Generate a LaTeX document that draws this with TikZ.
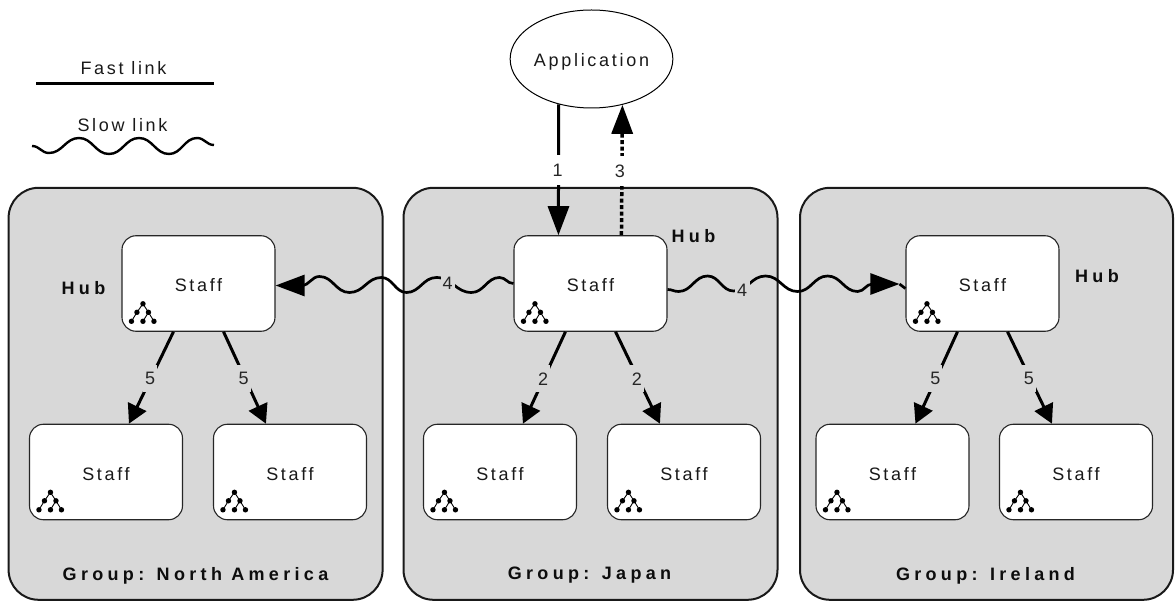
\documentclass[tikz,border=0pt]{standalone}
\usepackage{fontspec}
\usetikzlibrary{arrows.meta,calc,shapes.geometric}
\setmainfont{Liberation Sans}
\newfontfamily\lab[LetterSpace=15]{Liberation Sans}
\newfontfamily\blab[LetterSpace=24]{Liberation Sans}
\definecolor{groupgray}{HTML}{D8D8D8}
\def\wv#1#2{.. controls +({0.45*(#1)},0) and +({-0.45*(#1)},0) .. ++(#1,#2)}
\tikzset{
  x=1pt,y=-1pt,
  txt/.style={font={\lab\fontsize{18}{21}\selectfont},inner sep=0pt,text=black!90},
  boldtxt/.style={font={\blab\bfseries\fontsize{18}{21}\selectfont},inner sep=0pt,text=black!95},
  num/.style={font={\fontsize{18}{21}\selectfont},inner sep=0pt,text=black!85},
  groupbox/.style={draw=black!90,line width=2pt,fill=groupgray,rounded corners=30pt,minimum width=374pt,minimum height=412pt,inner sep=0pt},
  staffbox/.style={txt,draw=black!85,line width=1.1pt,fill=white,rounded corners=14pt,minimum width=153pt,minimum height=95.5pt,text height=16pt,text depth=0pt},
  appnode/.style={txt,ellipse,draw=black,line width=1pt,fill=white,minimum width=159pt,minimum height=98pt,text height=16pt,text depth=0pt},
  fast/.style={line width=3pt,black},
  slow/.style={line width=2.7pt,black},
  dotline/.style={line width=3.5pt,black,dash pattern=on 4pt off 2.5pt},
  bigtip/.style={-{Triangle[length=29pt,width=21pt,sep=0pt]}},
  smalltip/.style={-{Triangle[length=19pt,width=20pt]}},
  gaplabelw/.style={num,fill=white,minimum width=16pt,minimum height=30pt},
  gaplabelg/.style={num,fill=groupgray,minimum width=15pt,minimum height=24pt},
  gapdiag/.style={num,fill=groupgray,minimum width=14pt,minimum height=27pt},
  treeicon/.pic={
    \coordinate (t) at (21.5,-28);
    \coordinate (ml) at (15.5,-19.5);
    \coordinate (mr) at (27,-19.5);
    \coordinate (bl) at (10,-10.5);
    \coordinate (bm) at (21.5,-10.5);
    \coordinate (br) at (32.5,-10.5);
    \draw[line width=0.9pt,black] (bl) -- (ml) -- (t) -- (mr) -- (br) (mr) -- (bm);
    \foreach \p in {t,ml,mr,bl,bm,br} \fill[black] (\p) circle[radius=2.7pt];
  }
}
\begin{document}
\begin{tikzpicture}
\useasboundingbox (0,0) rectangle (1175,601);

% legend
\coordinate (fa) at (36,84);
\coordinate (fb) at (214,84);
\coordinate (sa) at (32,146);
\node[txt] (fastlabel) at (123.5,68) {Fast link};
\node[txt] (slowlabel) at (122.5,125) {Slow link};
\draw[fast] (fa) -- (fb);
\draw[line width=2.4pt,black] (sa) \wv{17}{7} \wv{30}{-15} \wv{30}{16} \wv{30}{-16} \wv{30}{16} \wv{28}{-16} \wv{17}{7};

% groups
\node[groupbox] (gna) at (195.6,393.8) {};
\node[groupbox] (gjp) at (590.5,393.8) {};
\node[groupbox,minimum width=373pt] (gir) at (986.5,393.8) {};
\node[boldtxt] (gnat) at (195.5,575.5) {Group: North America};
\node[boldtxt] (gjpt) at (589.5,575.5) {Group: Japan};
\node[boldtxt] (girt) at (985.5,575.5) {Group: Ireland};
\node[boldtxt] (hna) at (83.5,288) {Hub};
\node[boldtxt] (hjp) at (693.5,236) {Hub};
\node[boldtxt] (hir) at (1097,276) {Hub};

% staff boxes
\foreach \n/\cx/\cy in {nah/198.5/283.5,naa/106/472,nab/290/472,jph/590.5/283.5,jpa/500/472,jpb/684/472,irh/982.5/283.5,ira/892.5/472,irb/1076/472}{
  \node[staffbox] (\n) at (\cx,\cy) {Staff};
  \pic at (\n.south west) {treeicon};
}

% application
\node[appnode] (app) at (591.5,59) {Application};

% application links
\coordinate (j1) at ($(jph.north west)+(45,0)$);
\coordinate (j3) at ($(jph.north west)+(108,0)$);
\draw[fast,bigtip] (app.234.6) -- node[gaplabelw,pos=0.505,xshift=-1pt] (l1) {1} (j1);
\draw[dotline,bigtip] (j3) -- node[gaplabelw,pos=0.49,xshift=-2pt] (l3) {3} (app.304.4);

% slow links
\draw[slow,bigtip] (jph.west) \wv{-14}{-6} \wv{-28}{15} \wv{-35}{-15} \wv{-30}{15} \wv{-25}{-15} \wv{-32}{15} \wv{-30}{-16} \wv{-18}{9} -- ([yshift=-2pt]nah.east);
\node[gaplabelg,minimum width=14pt] (l4a) at (447.5,283) {4};
\coordinate (itip) at ($(irh.west)+(-6,0.5)$);
\draw[slow,bigtip] ([yshift=-6pt]jph.east) \wv{11}{2} \wv{29}{-15.5} \wv{26}{15} \wv{32}{-15} \wv{32}{15.5} \wv{30}{-15.5} \wv{30}{15.5} \wv{15}{-7.5} -- (itip);
\draw[slow] (itip) -- ([yshift=-5pt]irh.west);
\node[gaplabelg] (l4b) at (742,290) {4};

% down links
\foreach \h/\a/\b/\t in {nah/naa/nab/5,jph/jpa/jpb/2,irh/ira/irb/5}{
  \draw[fast,smalltip] ($(\h.south west)+(52,0)$) -- node[gapdiag,pos=0.5,xshift=-1pt,yshift=-1pt] {\t} ($(\a.north west)+(100,0)$);
  \draw[fast,smalltip] ($(\h.south east)+(-52,0)$) -- node[gapdiag,pos=0.5,xshift=-1pt,yshift=-1pt] {\t} ($(\b.north west)+(53,0)$);
}
\end{tikzpicture}
\end{document}
